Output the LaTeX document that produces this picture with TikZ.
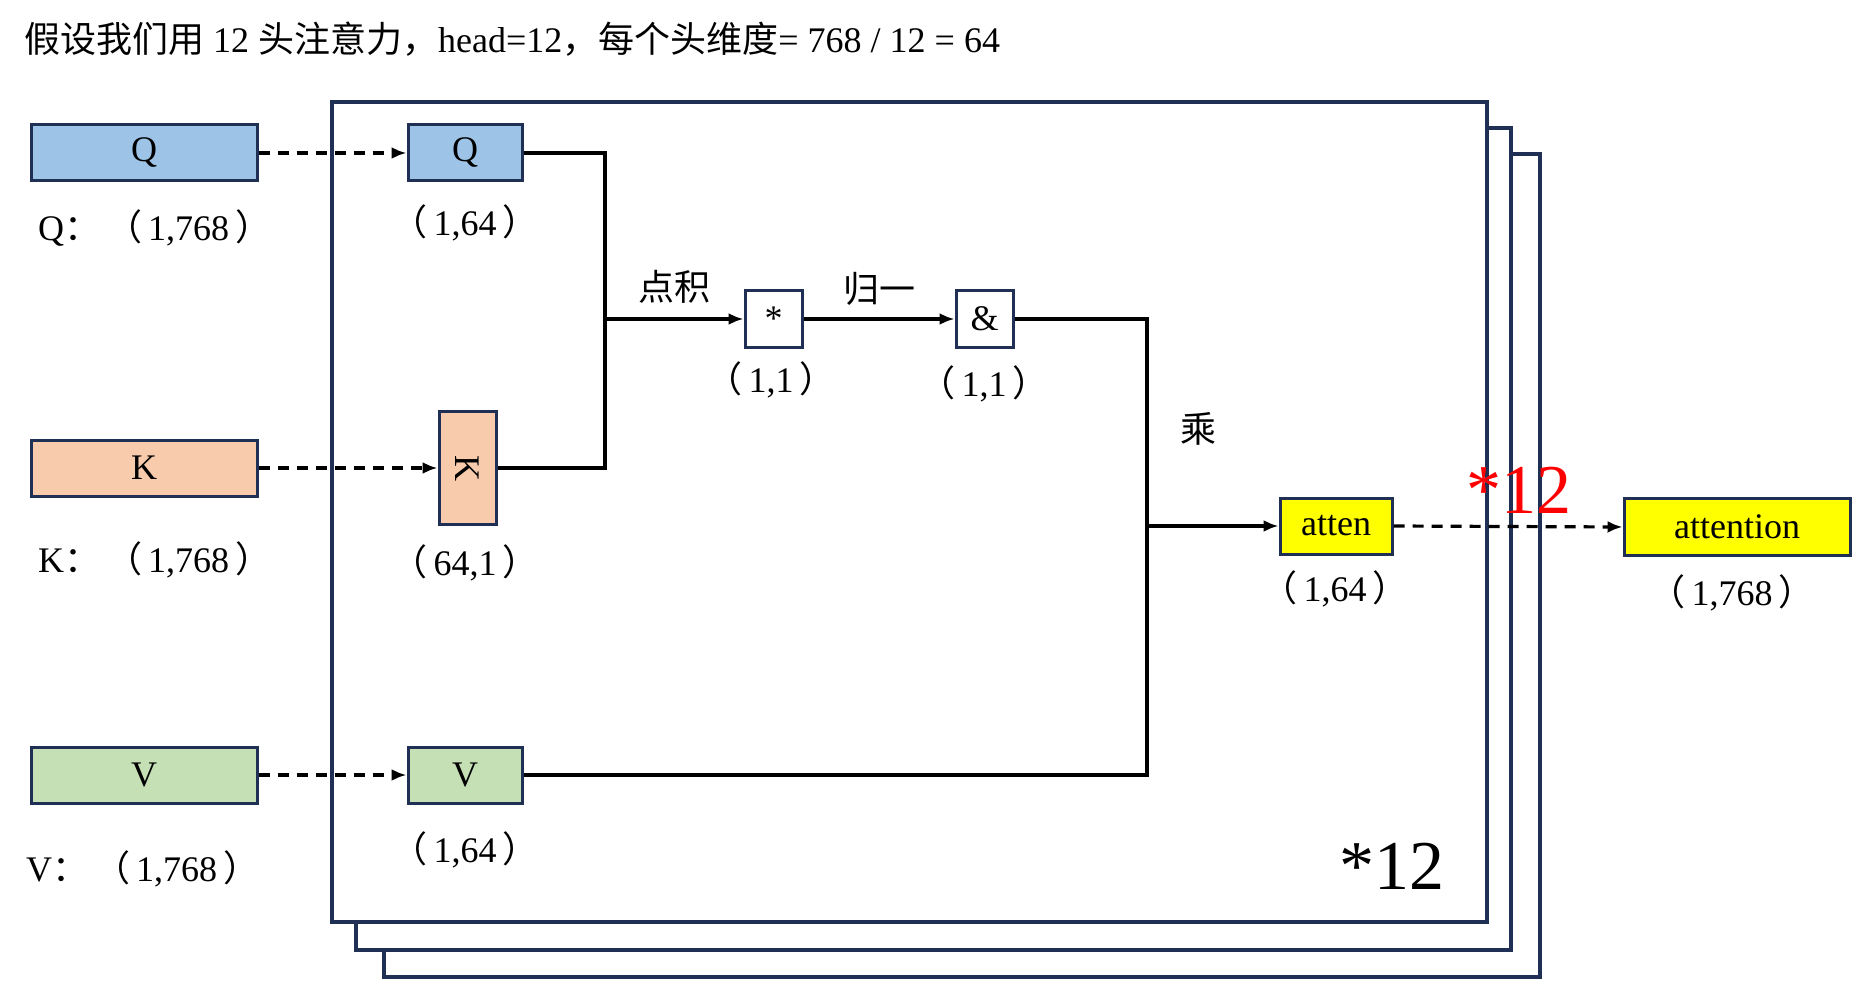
\documentclass[tikz,border=0pt]{standalone}
\usepackage{fontspec}
\setmainfont{Liberation Serif}
\newfontfamily\cjk{Noto Sans CJK SC}
\usetikzlibrary{arrows.meta}
\definecolor{navy}{RGB}{31,48,84}
\definecolor{qblue}{RGB}{157,195,230}
\definecolor{kpeach}{RGB}{248,203,173}
\definecolor{vgreen}{RGB}{197,224,180}
\definecolor{ylw}{RGB}{255,255,0}
\newcommand{\lp}{{\cjk （}\kern6pt}
\newcommand{\rp}{\kern6pt{\cjk ）}}
\begin{document}
\begin{tikzpicture}[x=1pt,y=-1pt,
  every node/.style={font=\fontsize{36}{42}\selectfont, inner sep=0pt},
  box/.style={draw=navy, line width=3pt, minimum height=56pt},
  frame/.style={draw=navy, line width=4.5pt, fill=white},
  conn/.style={line width=3.2pt},
  arr/.style={conn, -{Latex[length=15pt,width=12pt]}},
  dasharr/.style={arr, dash pattern=on 11pt off 8pt},
  big/.style={font=\fontsize{70}{80}\selectfont},
]
\useasboundingbox (0,0) rectangle (1860,984);

% title
\node[anchor=west] (title) at (24,39) {{\cjk 假设我们用} 12 {\cjk 头注意力，}head=12{\cjk ，每个头维度}= 768 / 12 = 64};

% stacked frames
\draw[frame] (384,154) rectangle (1540,977);
\draw[frame] (356,128) rectangle (1511,950);
\draw[frame] (332,102) rectangle (1487,922);

% left input boxes
\node[box, fill=qblue, minimum width=226pt] (Ql) at (144,153) {Q};
\node[box, fill=kpeach, minimum width=226pt] (Kl) at (144,468) {K};
\node[box, fill=vgreen, minimum width=226pt] (Vl) at (144,775) {V};
\node[anchor=west] (Qlab) at (38,228) {Q{\cjk ：}\kern6pt\lp 1,768\rp};
\node[anchor=west] (Klab) at (38,560) {K{\cjk ：}\kern6pt\lp 1,768\rp};
\node[anchor=west] (Vlab) at (26,869) {V{\cjk ：}\kern6pt\lp 1,768\rp};

% inner head boxes
\node[box, fill=qblue, minimum width=114pt] (Qi) at (465,153) {Q};
\node[box, fill=kpeach, minimum width=57pt, minimum height=113pt] (Ki) at (467.5,468) {};
\node[rotate=-90] (Kt) at (Ki) {K};
\node[box, fill=vgreen, minimum width=114pt] (Vi) at (465,775) {V};
\node (Qilab) at (465,223) {\lp 1,64\rp};
\node (Kilab) at (465,563) {\lp 64,1\rp};
\node (Vilab) at (465,850) {\lp 1,64\rp};

% operations
\node[box, minimum width=57pt] (star) at (773.5,319) {*};
\node[box, minimum width=57pt] (amp) at (984.5,319) {\&};
\node (starlab) at (771,380) {\lp 1,1\rp};
\node (amplab) at (984,384) {\lp 1,1\rp};
\node (dot) at (674,287) {\cjk 点积};
\node (norm) at (879,289) {\cjk 归一};
\node (mul) at (1198,429) {\cjk 乘};

% outputs
\node[box, fill=ylw, minimum width=112pt] (att) at (1336,526) {atten};
\node (attlab) at (1335,589) {\lp 1,64\rp};
\node[box, fill=ylw, minimum width=226pt, minimum height=57pt] (attn) at (1737,527) {attention};
\node (attnlab) at (1732,593) {\lp 1,768\rp};

\node[big] (blk12) at (1392,866) {*12};

% junctions
\coordinate (j1) at (605,319);
\coordinate (j2) at (1147,526);

% connectors
\draw[dasharr] (Ql.east) -- (Qi.west);
\draw[dasharr] (Kl.east) -- (Ki.west);
\draw[dasharr] (Vl.east) -- (Vi.west);
\draw[conn] (Qi.east) -| (j1);
\draw[conn] (Ki.east) -| (j1);
\draw[arr] (j1) -- (star.west);
\draw[arr] (star.east) -- (amp.west);
\draw[conn] (amp.east) -| (j2);
\draw[conn] (Vi.east) -| (j2);
\draw[arr] (j2) -- (att.west);
\draw[dasharr] (att.east) -- (attn.west);

\node[big, text=red] (red12) at (1519,490) {*12};
\end{tikzpicture}
\end{document}
